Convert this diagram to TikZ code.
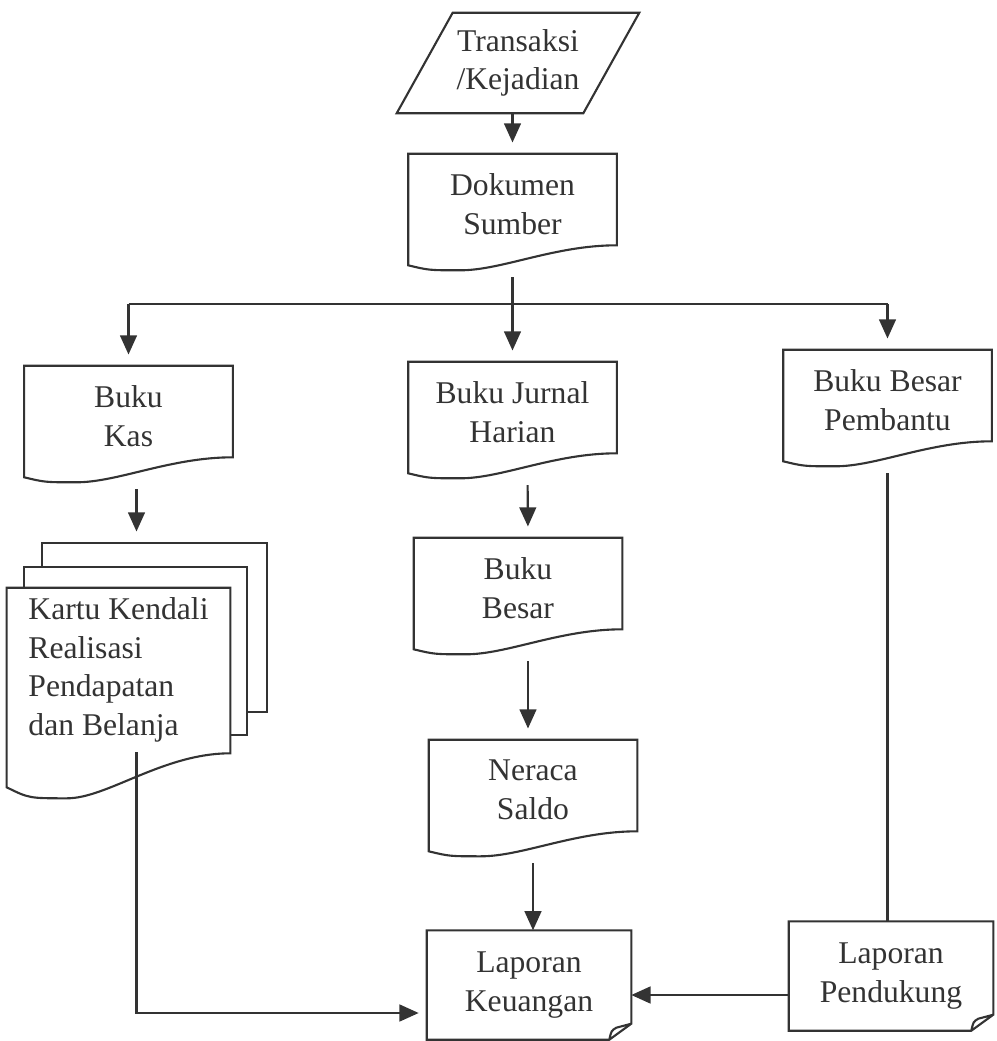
\documentclass[tikz,border=0pt]{standalone}
\usepackage{fontspec}
\setmainfont{Liberation Serif}
\usetikzlibrary{arrows.meta, positioning, calc}
\definecolor{inkgray}{HTML}{333333}
\newcommand\docfont{\fontsize{22.5}{27.5}\selectfont}
\tikzset{
  inbox/.style={rectangle,minimum width=4.65cm,minimum height=2.5cm,inner sep=0pt,align=center,font=\docfont},
  doc/.style={rectangle,minimum width=5.2cm,minimum height=2.5cm,inner sep=0pt,align=center,font=\docfont},
  multidoc/.style={doc,minimum width=5.575cm,minimum height=4.1cm,align=left},
  report/.style={rectangle,minimum width=5.1cm,minimum height=2.72cm,inner sep=0pt,align=center,font=\docfont},
  outline/.style={draw=inkgray,line width=1.5pt},
  link/.style={draw=inkgray,line width=1.5pt},
  flow/.style={link,-{Triangle[length=0.48cm,width=0.42cm]},shorten >=0.28cm},
  fromdoc/.style={shorten <=0.57cm},
}

\begin{document}
\begin{tikzpicture}[x=0.025cm,y=-0.025cm,text=inkgray]
    \useasboundingbox (0,0) rectangle (996,1041);

    % input
    \node[inbox] (trans) at (518,63) {Transaksi\\/Kejadian};
    \draw[outline] ($(trans.south west)+(-28,0)$) -- ($(trans.north west)+(28,0)$)
        -- ($(trans.north east)+(28,0)$) -- ($(trans.south east)+(-28,0)$) -- cycle;

    % documents
    \node[doc] (dok) at (512.5,204) {Dokumen\\Sumber};
    \node[doc] (kas) at (128.5,416) {Buku\\Kas};
    \node[doc] (jurnal) at (512.5,412) {Buku Jurnal\\Harian};
    \node[doc] (bantu) at (887.5,400) {Buku Besar\\Pembantu};
    \node[doc] (besar) at (518,588) {Buku\\Besar};
    \node[doc] (neraca) at (533,790) {Neraca\\Saldo};
    \foreach \n in {dok,kas,jurnal,bantu,besar,neraca}
        \draw[outline] (\n.north west) -- (\n.north east) -- ($(\n.south east)+(0,-9)$)
            .. controls ($(\n.south west)!0.7!(\n.south east)+(0,-9)$) and ($(\n.south west)!0.45!(\n.south east)+(0,16)$)
            .. ($(\n.south west)!0.25!(\n.south east)+(0,16)$)
            .. controls ($(\n.south west)!0.1!(\n.south east)+(0,16)$) .. ($(\n.south west)+(0,11)$) -- cycle;

    % multi document
    \node[multidoc] (kartu) at (118.5,670) {Kartu Kendali\\Realisasi\\Pendapatan\\dan Belanja};
    \draw[outline] ($(kartu.north west)+(35,-21)$) |- ($(kartu.north east)+(37,-45)$) |- ($(kartu.south east)+(17,-40)$);
    \draw[outline] ($(kartu.north west)+(17,0)$) |- ($(kartu.north east)+(17,-21)$) |- ($(kartu.south east)+(0,-17)$);
    \draw[outline] (kartu.north west) -- (kartu.north east) -- ($(kartu.south east)+(0,1)$)
        .. controls ($(kartu.south west)!0.7!(kartu.south east)+(0,1)$) and ($(kartu.south west)!0.45!(kartu.south east)+(0,46)$)
        .. ($(kartu.south west)!0.27!(kartu.south east)+(0,46)$)
        .. controls ($(kartu.south west)!0.1!(kartu.south east)+(0,46)$) .. ($(kartu.south west)+(0,35)$) -- cycle;
    \coordinate (stack) at ($(kartu.north)+(18,-45)$);

    % reports
    \node[report] (keuangan) at (529,985) {Laporan\\Keuangan};
    \node[report] (pendukung) at (891,976) {Laporan\\Pendukung};
    \foreach \n in {keuangan,pendukung}
        \draw[outline] (\n.north west) -- (\n.north east) -- ($(\n.south east)+(0,-16)$)
            -- ($(\n.south east)+(-22,0)$) -- (\n.south west) -- cycle
            ($(\n.south east)+(-22,0)$) .. controls ($(\n.south east)+(-20,-9)$) .. ($(\n.south east)+(-15,-12)$)
            -- ($(\n.south east)+(0,-16)$);

    % connectors
    \coordinate (split) at ($(dok.south)+(0,50)$);
    \draw[flow] (trans.south -| dok.north) -- (dok.north);
    \draw[flow,fromdoc] (dok) -- (jurnal);
    \draw[link] (split -| kas) -- (split -| bantu);
    \draw[flow] (split -| kas) -- (kas);
    \draw[flow] (split -| bantu) -- (bantu);
    \draw[flow,fromdoc] (kas.south -| stack) -- (stack);
    \draw[flow,fromdoc] ($(jurnal.south)+(15,0)$) -- ($(besar.north)+(10,0)$);
    \draw[flow,fromdoc] ($(besar.south)+(10,0)$) -- ($(neraca.north)+(-5,0)$);
    \draw[flow,fromdoc,shorten >=0pt] (neraca.south) -- (neraca.south |- keuangan.north);
    \draw[link,fromdoc] (bantu.south) -- (bantu.south |- pendukung.north);
    \draw[flow,shorten >=0pt] ($(pendukung.west)+(0,19)$) -- ($(keuangan.east)+(0,10)$);
    \draw[flow,shorten >=0.2cm] (stack |- kartu.south) |- ($(keuangan.west)+(0,28)$);
\end{tikzpicture}
\end{document}
